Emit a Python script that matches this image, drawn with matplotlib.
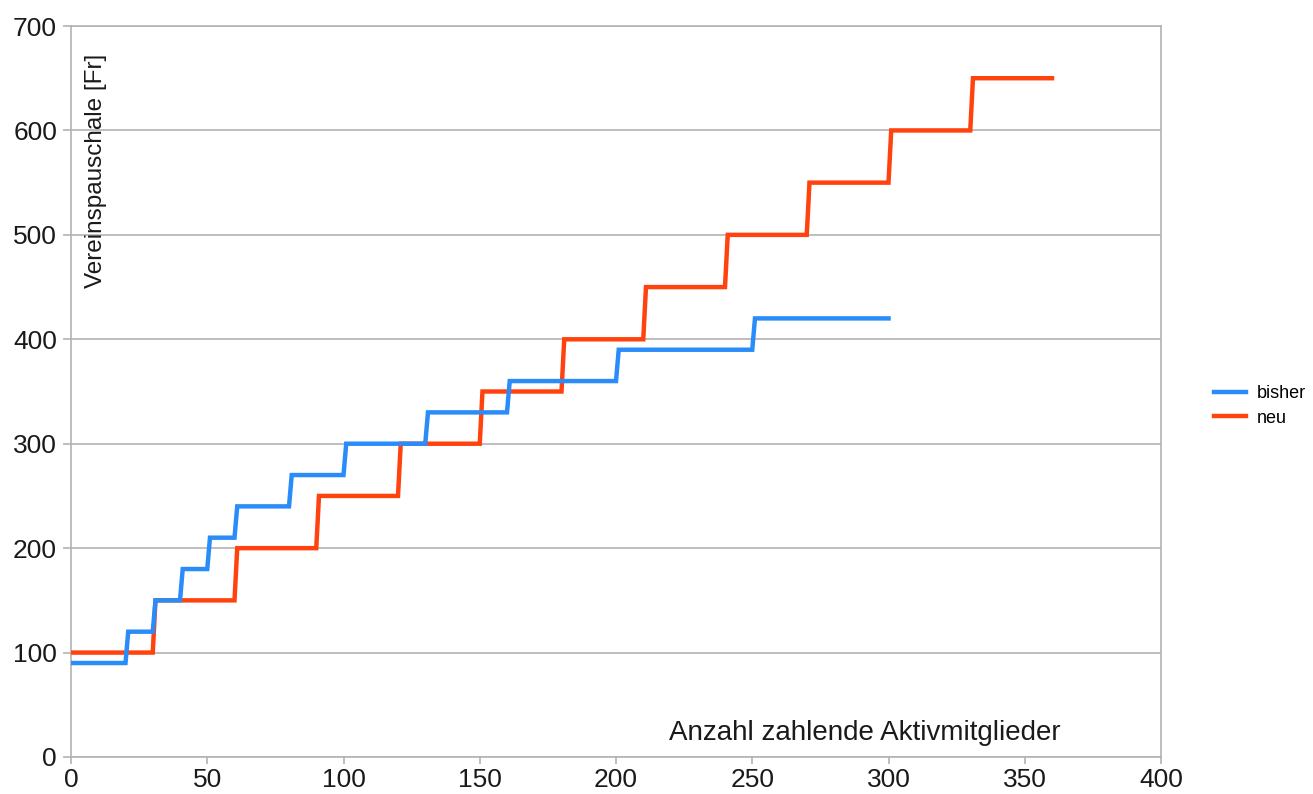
import matplotlib
matplotlib.use("Agg")
import matplotlib.pyplot as plt

plt.rcParams['font.family'] = ['Liberation Sans', 'DejaVu Sans']

# Data (steps rise from member count N to N+1)
bisher_x = [0, 20, 21, 30, 31, 40, 41, 50, 51, 60, 61, 80, 81, 100, 101, 130, 131, 160, 161, 200, 201, 250, 251, 300]
bisher_y = [90, 90, 120, 120, 150, 150, 180, 180, 210, 210, 240, 240, 270, 270, 300, 300, 330, 330, 360, 360, 390, 390, 420, 420]
neu_x = [0, 30, 31, 60, 61, 90, 91, 120, 121, 150, 151, 180, 181, 210, 211, 240, 241, 270, 271, 300, 301, 330, 331, 360]
neu_y = [100, 100, 150, 150, 200, 200, 250, 250, 300, 300, 350, 350, 400, 400, 450, 450, 500, 500, 550, 550, 600, 600, 650, 650]
x_ticks = [0, 50, 100, 150, 200, 250, 300, 350, 400]
y_ticks = [0, 100, 200, 300, 400, 500, 600, 700]

fig = plt.figure(figsize=(13.13, 7.94), dpi=100)
ax = fig.add_axes([71/1313, 1-757/794, (1161-71)/1313, (757-26)/794])

l_neu, = ax.plot(neu_x, neu_y, color='#ff420e', lw=3.2, solid_joinstyle='miter', label='neu', zorder=3)
l_bis, = ax.plot(bisher_x, bisher_y, color='#2a8cf8', lw=3.2, solid_joinstyle='miter', label='bisher', zorder=4)

ax.set_xlim(0, 400)
ax.set_ylim(0, 700)
ax.set_xticks(x_ticks)
ax.set_yticks(y_ticks)
ax.tick_params(axis='both', labelsize=19, color='#b3b3b3', width=1.2, labelcolor='#1a1a1a')
ax.tick_params(axis='y', length=6, pad=4)
ax.tick_params(axis='x', length=5, pad=3)
ax.yaxis.grid(True, color='#b3b3b3', lw=1.2)
ax.set_axisbelow(True)
for s in ax.spines.values():
    s.set_color('#b3b3b3')
    s.set_linewidth(1.2)

ax.text(5, 673, 'Vereinspauschale [Fr]', rotation=90, fontsize=17.5, ha='left', va='top', color='#1a1a1a')
ax.text(219.5, 23, 'Anzahl zahlende Aktivmitglieder', fontsize=20, ha='left', va='center', color='#1a1a1a')

leg = fig.legend(handles=[l_bis, l_neu], labels=['bisher', 'neu'], loc='center left',
                 bbox_to_anchor=(1205/1313, 1-406/794), frameon=False, fontsize=13,
                 handlelength=1.75, handletextpad=0.6, labelspacing=0.4, borderpad=0)

fig.savefig('out.png', dpi=100)
